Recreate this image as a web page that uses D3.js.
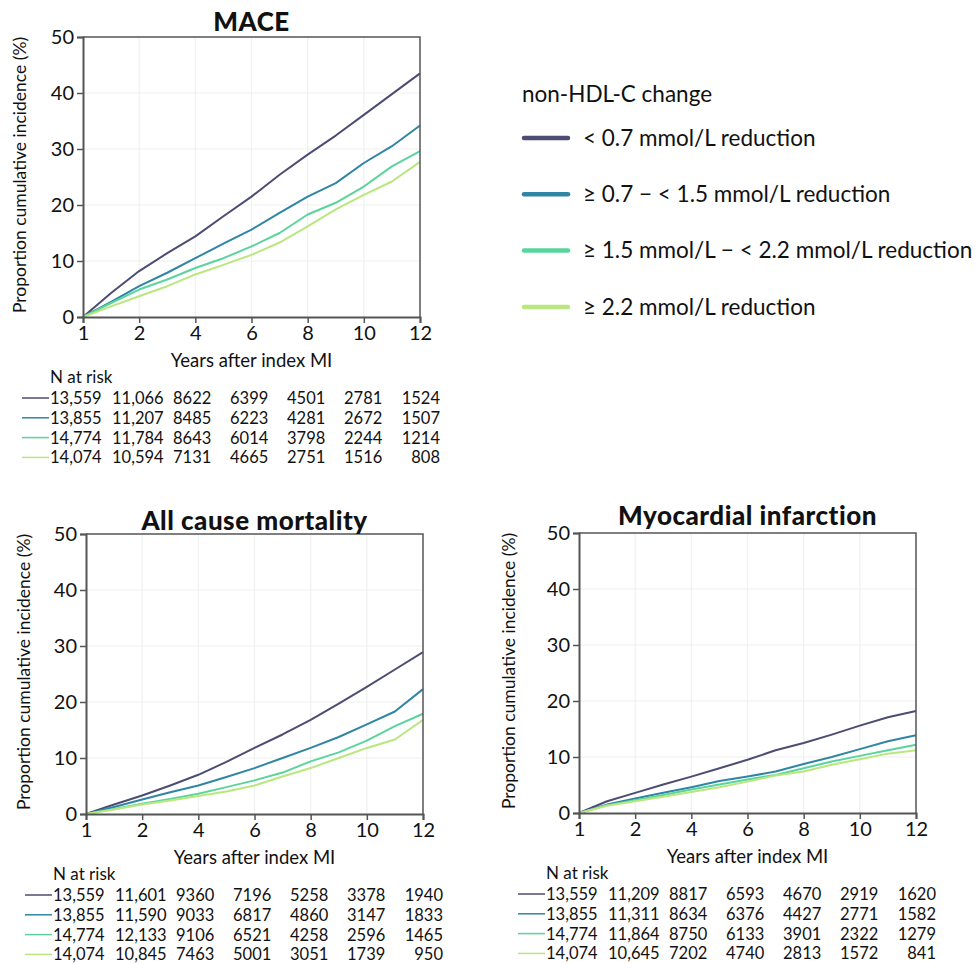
<!DOCTYPE html>
<html>
<head>
<meta charset="utf-8">
<script src="https://cdn.jsdelivr.net/npm/d3@7"></script>
<style>
body { margin: 0; background: #fff; }
text { font-family: Lato, "Open Sans", sans-serif; fill: #111; }
</style>
</head>
<body>
<script>
var canvasWidth = 976;
var canvasHeight = 964;

// data
var years = [0, 1, 2, 3, 4, 5, 6, 7, 8, 9, 10, 11, 12];
var xTickValues = [0, 2, 4, 6, 8, 10, 12];
var xTickLabels = ["1", "2", "4", "6", "8", "10", "12"];
var yTickValues = [0, 10, 20, 30, 40, 50];

var groupNames = [
    "< 0.7 mmol/L reduction",
    "\u2265 0.7 \u2212 < 1.5 mmol/L reduction",
    "\u2265 1.5 mmol/L \u2212 < 2.2 mmol/L reduction",
    "\u2265 2.2 mmol/L reduction"
];
var groupColors = ["#4d4c72", "#2f86a4", "#5ad49c", "#b9e77e"];

var maceValues = [
    [0, 4.3, 8.2, 11.4, 14.4, 18.0, 21.5, 25.4, 29.0, 32.4, 36.1, 39.8, 43.5],
    [0, 2.7, 5.5, 7.9, 10.5, 13.1, 15.6, 18.6, 21.5, 23.9, 27.5, 30.5, 34.2],
    [0, 2.5, 4.9, 6.7, 8.75, 10.5, 12.6, 15.0, 18.3, 20.4, 23.3, 26.9, 29.6],
    [0, 1.9, 3.7, 5.5, 7.6, 9.3, 11.1, 13.3, 16.2, 19.2, 21.8, 24.2, 27.7]
];
var mortalityValues = [
    [0, 1.7, 3.3, 5.1, 7.0, 9.3, 11.8, 14.2, 16.8, 19.7, 22.7, 25.8, 28.9],
    [0, 1.25, 2.6, 3.9, 5.1, 6.6, 8.2, 10.0, 11.8, 13.75, 16.0, 18.3, 22.3],
    [0, 0.9, 1.85, 2.7, 3.6, 4.8, 6.0, 7.4, 9.4, 11.0, 13.1, 15.7, 17.9],
    [0, 0.8, 1.7, 2.4, 3.2, 4.0, 5.1, 6.7, 8.2, 10.0, 11.8, 13.3, 16.8]
];
var miValues = [
    [0, 2.1, 3.6, 5.1, 6.5, 8.0, 9.5, 11.2, 12.5, 14.0, 15.6, 17.1, 18.2],
    [0, 1.5, 2.6, 3.6, 4.6, 5.7, 6.5, 7.4, 8.75, 10.0, 11.4, 12.8, 13.9],
    [0, 1.4, 2.3, 3.2, 4.2, 5.1, 6.0, 6.8, 8.0, 9.2, 10.2, 11.2, 12.2],
    [0, 1.3, 2.1, 2.9, 3.75, 4.6, 5.6, 6.7, 7.4, 8.6, 9.6, 10.6, 11.2]
];

var maceRisk = [
    ["13,559", "11,066", "8622", "6399", "4501", "2781", "1524"],
    ["13,855", "11,207", "8485", "6223", "4281", "2672", "1507"],
    ["14,774", "11,784", "8643", "6014", "3798", "2244", "1214"],
    ["14,074", "10,594", "7131", "4665", "2751", "1516", "808"]
];
var mortalityRisk = [
    ["13,559", "11,601", "9360", "7196", "5258", "3378", "1940"],
    ["13,855", "11,590", "9033", "6817", "4860", "3147", "1833"],
    ["14,774", "12,133", "9106", "6521", "4258", "2596", "1465"],
    ["14,074", "10,845", "7463", "5001", "3051", "1739", "950"]
];
var miRisk = [
    ["13,559", "11,209", "8817", "6593", "4670", "2919", "1620"],
    ["13,855", "11,311", "8634", "6376", "4427", "2771", "1582"],
    ["14,774", "11,864", "8750", "6133", "3901", "2322", "1279"],
    ["14,074", "10,645", "7202", "4740", "2813", "1572", "841"]
];

var panels = [
    { title: "MACE", values: maceValues, risk: maceRisk, left: 83, top: 37, titleY: 31, labelX: 20 },
    { title: "All cause mortality", values: mortalityValues, risk: mortalityRisk, left: 86, top: 534, titleY: 530, labelX: 24 },
    { title: "Myocardial infarction", values: miValues, risk: miRisk, left: 579, top: 533, titleY: 525, labelX: 509 }
];
var plotWidth = 337;
var plotHeight = 280;

// column offsets of the risk table, relative to the plot's left edge
var riskColumns = [-33, 29, 90, 147, 204, 261];
var riskLastRight = 357;

var svg = d3.select("body").append("svg")
    .attr("width", canvasWidth)
    .attr("height", canvasHeight);

panels.forEach(function(p) {
    var x = d3.scaleLinear().domain([0, 12]).range([p.left, p.left + plotWidth]);
    var y = d3.scaleLinear().domain([0, 50]).range([p.top + plotHeight, p.top]);
    var bottom = p.top + plotHeight;

    var g = svg.append("g");

    // grid
    g.selectAll(".gx").data(xTickValues.slice(1, -1)).enter().append("line")
        .attr("x1", function(d) { return x(d); }).attr("x2", function(d) { return x(d); })
        .attr("y1", p.top).attr("y2", bottom)
        .attr("stroke", "#f0f0f0").attr("stroke-width", 1.2);
    g.selectAll(".gy").data(yTickValues.slice(1, -1)).enter().append("line")
        .attr("x1", p.left).attr("x2", p.left + plotWidth)
        .attr("y1", function(d) { return y(d); }).attr("y2", function(d) { return y(d); })
        .attr("stroke", "#f0f0f0").attr("stroke-width", 1.2);

    // curves
    var line = d3.line()
        .x(function(d, i) { return x(years[i]); })
        .y(function(d) { return y(d); });
    p.values.forEach(function(vals, k) {
        g.append("path")
            .attr("d", line(vals))
            .attr("fill", "none")
            .attr("stroke", groupColors[k])
            .attr("stroke-width", 2)
            .attr("stroke-linejoin", "round");
    });

    // box: top and right
    g.append("path")
        .attr("d", "M" + p.left + "," + p.top + "H" + (p.left + plotWidth) + "V" + bottom)
        .attr("fill", "none").attr("stroke", "#555").attr("stroke-width", 1.5);

    // axes
    var xAxis = d3.axisBottom(x).tickValues(xTickValues)
        .tickFormat(function(d, i) { return xTickLabels[i]; })
        .tickSizeOuter(0).tickSize(6).tickPadding(3);
    var yAxis = d3.axisLeft(y).tickValues(yTickValues)
        .tickSizeOuter(0).tickSize(6).tickPadding(3);

    var gx = g.append("g").attr("transform", "translate(0," + bottom + ")").call(xAxis);
    var gy = g.append("g").attr("transform", "translate(" + p.left + ",0)").call(yAxis);
    [gx, gy].forEach(function(a) {
        a.select(".domain").attr("stroke", "#555").attr("stroke-width", 2);
        a.selectAll(".tick line").attr("stroke", "#555").attr("stroke-width", 1.5);
        a.selectAll(".tick text").style("font-size", "20px").attr("fill", "#111");
    });

    // titles
    g.append("text")
        .attr("x", p.left + plotWidth / 2).attr("y", p.titleY)
        .attr("text-anchor", "middle")
        .style("font-size", "26px").style("font-weight", "900")
        .style("letter-spacing", "0.5px")
        .text(p.title);
    g.append("text")
        .attr("x", p.left + plotWidth / 2).attr("y", bottom + 50)
        .attr("text-anchor", "middle")
        .style("font-size", "18.5px")
        .text("Years after index MI");
    g.append("text")
        .attr("transform", "translate(" + p.labelX + "," + (p.top + plotHeight / 2 - 2) + ") rotate(-90)")
        .attr("text-anchor", "middle")
        .attr("dy", "0.35em")
        .style("font-size", "17.5px")
        .text("Proportion cumulative incidence (%)");

    // risk table
    g.append("text")
        .attr("x", p.left - 33).attr("y", bottom + 66)
        .style("font-size", "17px")
        .text("N at risk");
    p.risk.forEach(function(row, k) {
        var ry = bottom + 87 + k * 19.8;
        g.append("line")
            .attr("x1", p.left - 61).attr("x2", p.left - 34)
            .attr("y1", ry - 6).attr("y2", ry - 6)
            .attr("stroke", groupColors[k]).attr("stroke-width", 1.5);
        row.forEach(function(v, j) {
            var last = j === row.length - 1;
            g.append("text")
                .attr("x", p.left + (last ? riskLastRight : riskColumns[j]))
                .attr("y", ry)
                .attr("text-anchor", last ? "end" : "start")
                .style("font-size", "16.5px")
                .text(v);
        });
    });
});

// legend
var legend = svg.append("g");
legend.append("text")
    .attr("x", 522).attr("y", 102)
    .style("font-size", "22.5px")
    .text("non-HDL-C change");
groupNames.forEach(function(name, k) {
    var ly = 138 + k * 56.3;
    legend.append("line")
        .attr("x1", 524).attr("x2", 568)
        .attr("y1", ly).attr("y2", ly)
        .attr("stroke", groupColors[k]).attr("stroke-width", 4.5)
        .attr("stroke-linecap", "round");
    legend.append("text")
        .attr("x", 583).attr("y", ly)
        .attr("dy", "0.35em")
        .style("font-size", "22.5px")
        .text(name);
});
</script>
</body>
</html>
